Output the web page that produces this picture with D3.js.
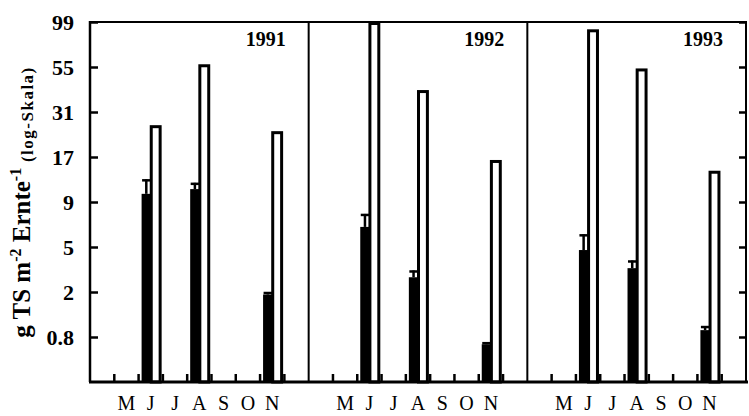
<!DOCTYPE html>
<html>
<head>
<meta charset="utf-8">
<script src="https://cdn.jsdelivr.net/npm/d3@7"></script>
<style>
  html, body { margin: 0; padding: 0; background: #fff; }
  svg { display: block; }
  text { font-family: "Liberation Serif", "Times New Roman", serif; fill: #000; }
</style>
</head>
<body>
<svg id="chart" width="749" height="416"></svg>
<script>
// ---- data ----
const years = ["1991", "1992", "1993"];
const months = ["Apr", "May", "Jun", "Jul", "Aug", "Sep", "Oct", "Nov", "Dec"];
const monthLabels = ["", "M", "J", "J", "A", "S", "O", "N", ""];
const sampleMonths = ["Jun", "Aug", "Nov"];
const yTickValues = [0.8, 2, 5, 9, 17, 31, 55, 99];
const yTickLabels = ["0.8", "2", "5", "9", "17", "31", "55", "99"];
// black (filled) bars: mean per year, per sample month
const blackMean = [[10.1, 10.8, 1.9], [6.5, 2.7, 0.69], [4.7, 3.25, 0.92]];
// black bars: upper end of error bar
const blackUpper = [[12.4, 11.8, 2.0], [7.7, 3.1, 0.72], [5.9, 3.8, 1.0]];
// white (open) bars
const whiteMean = [[26, 57, 24], [99, 41, 16.3], [90, 54, 14]];

// ---- layout ----
const plotLeft = 90, plotRight = 746, plotTop = 22, plotBottom = 382;
const svg = d3.select("#chart");

// y: evenly spaced ticks (log-type axis); index -1 at the bottom
const yIndex = d3.scaleLinear().domain([-1, yTickValues.length - 1]).range([plotBottom, plotTop]);
const y = d3.scaleLinear()
  .domain(yTickValues.map(Math.log10))
  .range(yTickValues.map((d, i) => yIndex(i)));
const yv = v => y(Math.log10(v));

const xPanel = d3.scaleBand().domain(years).range([plotLeft, plotRight]);

// ---- bars ----
years.forEach((yr, pi) => {
  const x0 = xPanel(yr);
  const xm = d3.scaleBand().domain(months).range([x0, x0 + xPanel.bandwidth()]);
  const xs = d3.scaleBand().domain(["black", "white"]).range([3, xm.bandwidth() - 2.5]);
  const g = svg.append("g");

  sampleMonths.forEach((m, k) => {
    const bx = xm(m) + xs("black");
    const bw = xs.bandwidth();
    const top = yv(blackMean[pi][k]);
    g.append("rect").attr("x", bx).attr("y", top).attr("width", bw)
      .attr("height", plotBottom - top).attr("fill", "#000");
    const eTop = yv(blackUpper[pi][k]);
    g.append("line").attr("x1", bx + bw / 2).attr("x2", bx + bw / 2)
      .attr("y1", top).attr("y2", eTop).attr("stroke", "#000").attr("stroke-width", 2.5);
    g.append("line").attr("x1", bx + 0.5).attr("x2", bx + bw - 0.5)
      .attr("y1", eTop + 1).attr("y2", eTop + 1).attr("stroke", "#000").attr("stroke-width", 2.5);

    const wx = xm(m) + xs("white");
    const wTop = yv(whiteMean[pi][k]);
    g.append("rect").attr("x", wx + 0.25).attr("y", wTop + 1.5).attr("width", bw - 0.5)
      .attr("height", plotBottom - wTop - 1.5).attr("fill", "#fff")
      .attr("stroke", "#000").attr("stroke-width", 3);
  });

  // month boundary ticks
  months.slice(1).forEach(m => {
    g.append("line").attr("x1", xm(m)).attr("x2", xm(m))
      .attr("y1", plotBottom).attr("y2", plotBottom - 8)
      .attr("stroke", "#000").attr("stroke-width", 2.5);
  });

  // month labels
  const ax = svg.append("g").attr("transform", `translate(0,${plotBottom})`)
    .call(d3.axisBottom(xm).tickSize(0).tickPadding(14)
      .tickFormat((d, i) => monthLabels[i]));
  ax.select(".domain").remove();
  ax.selectAll("text").style("font-family", '"Liberation Serif", serif')
    .style("font-size", "20px").attr("fill", "#000");

  // year label
  svg.append("text").attr("x", x0 + xPanel.bandwidth() - 23).attr("y", 46)
    .attr("text-anchor", "end").style("font-size", "20px").style("font-weight", "bold")
    .text(yr);
});

// ---- frame ----
const frame = svg.append("g").attr("stroke", "#000").attr("fill", "none");
frame.append("line").attr("x1", plotLeft).attr("x2", plotRight + 1)
  .attr("y1", plotTop).attr("y2", plotTop).attr("stroke-width", 2);
frame.append("line").attr("x1", plotLeft - 1).attr("x2", plotRight + 2)
  .attr("y1", plotBottom).attr("y2", plotBottom).attr("stroke-width", 3);
frame.append("line").attr("x1", plotLeft).attr("x2", plotLeft)
  .attr("y1", plotTop - 1).attr("y2", plotBottom).attr("stroke-width", 2.5);
frame.append("line").attr("x1", plotRight).attr("x2", plotRight)
  .attr("y1", plotTop - 1).attr("y2", plotBottom).attr("stroke-width", 2);
years.slice(1).forEach(yr => {
  frame.append("line").attr("x1", xPanel(yr)).attr("x2", xPanel(yr))
    .attr("y1", plotTop).attr("y2", plotBottom).attr("stroke-width", 2);
});

// ---- y axes ----
const yl = svg.append("g").attr("transform", `translate(${plotLeft},0)`)
  .call(d3.axisLeft(y).tickValues(yTickValues.map(Math.log10)).tickSize(-8).tickPadding(16)
    .tickFormat((d, i) => yTickLabels[i]));
yl.select(".domain").remove();
yl.selectAll("line").attr("stroke-width", 2.5);
yl.selectAll("text").style("font-family", '"Liberation Serif", serif')
  .style("font-size", "22px").style("font-weight", "bold").attr("fill", "#000");

const yr = svg.append("g").attr("transform", `translate(${plotRight},0)`)
  .call(d3.axisRight(y).tickValues(yTickValues.map(Math.log10)).tickSize(-7).tickFormat(""));
yr.select(".domain").remove();
yr.selectAll("line").attr("stroke-width", 2.5);

// ---- y title ----
const title = svg.append("text")
  .attr("transform", `translate(30,${(plotTop + plotBottom) / 2}) rotate(-90)`)
  .attr("text-anchor", "middle")
  .style("font-weight", "bold").style("font-size", "25px");
title.append("tspan").text("g TS m");
title.append("tspan").attr("dy", -9).style("font-size", "16px").text("-2");
title.append("tspan").attr("dy", 9).text(" Ernte");
title.append("tspan").attr("dy", -9).style("font-size", "16px").text("-1");
title.append("tspan").attr("dy", 12).style("font-size", "17px").style("letter-spacing", "1.5px")
  .text(" (log-Skala)");
</script>
</body>
</html>
